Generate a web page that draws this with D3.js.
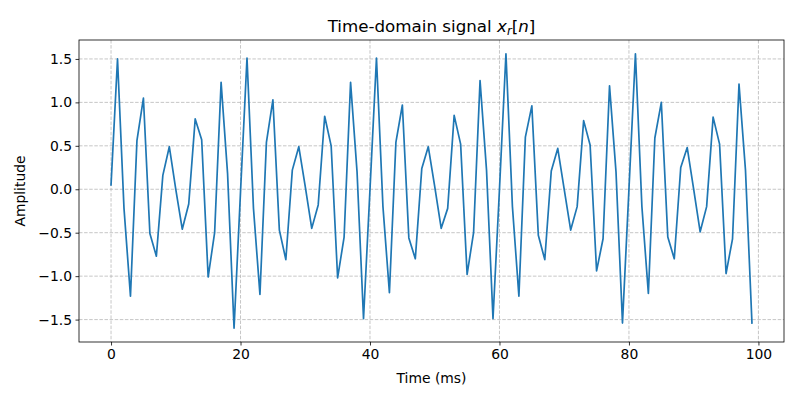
<!DOCTYPE html>
<html>
<head>
<meta charset="utf-8">
<script src="https://cdn.jsdelivr.net/npm/d3@7"></script>
<style>
body { margin: 0; background: #fff; }
svg { display: block; font-family: "DejaVu Sans", sans-serif; }
</style>
</head>
<body>
<svg id="chart" width="800" height="400"></svg>
<script>
const times = d3.range(0, 100);
const amplitude = [
  0.05, 1.50, -0.22, -1.23, 0.56, 1.05, -0.51, -0.77, 0.16, 0.49,
  0.00, -0.46, -0.17, 0.81, 0.57, -1.01, -0.50, 1.23, 0.18, -1.60,
  -0.03, 1.51, -0.22, -1.21, 0.54, 1.03, -0.47, -0.81, 0.22, 0.49,
  0.03, -0.45, -0.18, 0.84, 0.50, -1.02, -0.55, 1.23, 0.20, -1.49,
  0.00, 1.51, -0.20, -1.19, 0.54, 0.97, -0.56, -0.80, 0.24, 0.49,
  0.03, -0.45, -0.22, 0.85, 0.52, -0.98, -0.50, 1.25, 0.22, -1.49,
  0.00, 1.56, -0.20, -1.23, 0.60, 0.96, -0.53, -0.81, 0.21, 0.47,
  0.00, -0.47, -0.20, 0.79, 0.51, -0.94, -0.57, 1.19, 0.20, -1.54,
  0.00, 1.56, -0.20, -1.20, 0.59, 1.00, -0.55, -0.80, 0.25, 0.48,
  0.00, -0.49, -0.20, 0.83, 0.52, -0.97, -0.57, 1.21, 0.22, -1.54
];
const xTicks = [0, 20, 40, 60, 80, 100];
const yTicks = [-1.5, -1.0, -0.5, 0.0, 0.5, 1.0, 1.5];

const svg = d3.select("#chart");
const m = { left: 79, right: 784, top: 40, bottom: 342 };

const xMin = d3.min(times), xMax = d3.max(times);
const xPad = (xMax - xMin) * 0.05;
const yMin = d3.min(amplitude), yMax = d3.max(amplitude);
const yPad = (yMax - yMin) * 0.05;

const x = d3.scaleLinear().domain([xMin - xPad, xMax + xPad]).range([m.left, m.right]);
const y = d3.scaleLinear().domain([yMin - yPad, yMax + yPad]).range([m.bottom, m.top]);

// grid
const grid = svg.append("g");
grid.selectAll("line.vx").data(xTicks).enter().append("line")
  .attr("x1", d => x(d)).attr("x2", d => x(d))
  .attr("y1", m.top).attr("y2", m.bottom)
  .attr("stroke", "#b0b0b0").attr("stroke-opacity", 0.9)
  .attr("stroke-width", 0.8).attr("stroke-dasharray", "3.5,1.6");
grid.selectAll("line.hy").data(yTicks).enter().append("line")
  .attr("y1", d => y(d)).attr("y2", d => y(d))
  .attr("x1", m.left).attr("x2", m.right)
  .attr("stroke", "#b0b0b0").attr("stroke-opacity", 0.9)
  .attr("stroke-width", 0.8).attr("stroke-dasharray", "3.5,1.6");

// line
const line = d3.line().x((d, i) => x(times[i])).y(d => y(d));
svg.append("path").datum(amplitude)
  .attr("d", line).attr("fill", "none")
  .attr("stroke", "#1f77b4").attr("stroke-width", 1.7)
  .attr("stroke-linejoin", "round").attr("stroke-linecap", "square");

// axes
const xAxis = d3.axisBottom(x).tickValues(xTicks).tickSize(3.5).tickPadding(3.5).tickFormat(d3.format("d"));
const yAxis = d3.axisLeft(y).tickValues(yTicks).tickSize(3.5).tickPadding(3.5).tickFormat(d3.format(".1f"));

const gx = svg.append("g").attr("transform", `translate(0,${m.bottom})`).call(xAxis);
const gy = svg.append("g").attr("transform", `translate(${m.left},0)`).call(yAxis);
[gx, gy].forEach(g => {
  g.select(".domain").remove();
  g.selectAll(".tick line").attr("stroke", "#000").attr("stroke-width", 0.8);
  g.selectAll(".tick text").attr("font-size", "13.9px").attr("fill", "#000")
    .attr("font-family", "DejaVu Sans, sans-serif");
});
gy.selectAll(".tick text").text(d => d < 0 ? "\u2212" + d3.format(".1f")(-d) : d3.format(".1f")(d));

// frame
svg.append("rect").attr("x", m.left).attr("y", m.top)
  .attr("width", m.right - m.left).attr("height", m.bottom - m.top)
  .attr("fill", "none").attr("stroke", "#000").attr("stroke-width", 0.8);

// labels
svg.append("text").attr("x", (m.left + m.right) / 2).attr("y", 383)
  .attr("text-anchor", "middle").attr("font-size", "13.9px").text("Time (ms)");
svg.append("text").attr("transform", `translate(25,${(m.top + m.bottom) / 2}) rotate(-90)`)
  .attr("text-anchor", "middle").attr("font-size", "13.9px").text("Amplitude");

const title = svg.append("text").attr("x", (m.left + m.right) / 2).attr("y", 32)
  .attr("text-anchor", "middle").attr("font-size", "16.7px");
title.append("tspan").text("Time-domain signal ");
title.append("tspan").attr("font-style", "italic").text("x");
title.append("tspan").attr("font-style", "italic").attr("font-size", "11.7px").attr("dy", 3).text("r");
title.append("tspan").attr("dy", -3).text("[");
title.append("tspan").attr("font-style", "italic").text("n");
title.append("tspan").text("]");
</script>
</body>
</html>
